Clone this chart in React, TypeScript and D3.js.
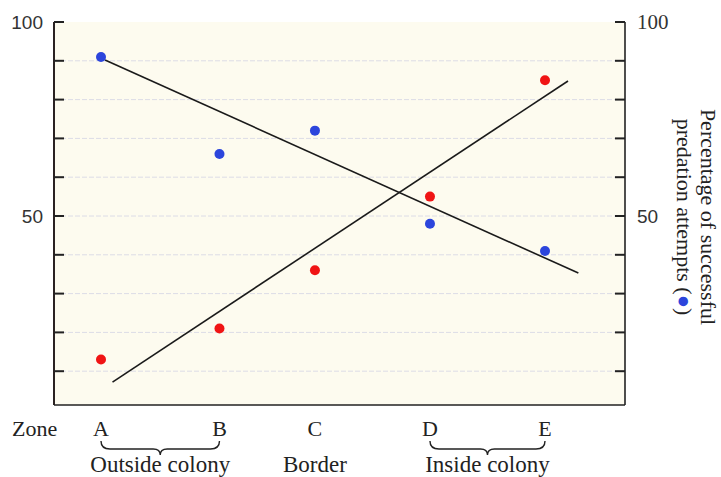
import React from "react";
import * as d3 from "d3";

const zones = ["A", "B", "C", "D", "E"];
const zonePos = [0, 1.03, 1.86, 2.86, 3.86];
const bluePct = [91, 66, 72, 48, 41];
const redPct = [13, 21, 36, 55, 85];
const blueTrend = [
  [0.035, 90.2],
  [4.15, 35.3],
];
const redTrend = [
  [0.1, 7.2],
  [4.06, 84.8],
];
const gridValues = [10, 20, 30, 40, 50, 60, 70, 80, 90];
const tickValues = [10, 20, 30, 40, 50, 60, 70, 80, 90, 100];
const labeledTicks = [50, 100];
const groups = [
  { label: "Outside colony", from: 0, to: 1 },
  { label: "Border", from: 2, to: 2 },
  { label: "Inside colony", from: 3, to: 4 },
];

const W = 721;
const H = 477;
const left = 54;
const right = 625;
const top = 22;
const bottom = 405;

export default function App() {
  const x = d3.scaleLinear().domain([0, 3.86]).range([101, 545]);
  const y = d3.scaleLinear().domain([0, 100]).range([410, 22]);
  const line = d3
    .line<number[]>()
    .x((d) => x(d[0]))
    .y((d) => y(d[1]));
  const serif = "'Liberation Serif', 'Times New Roman', serif";
  const sans = "'Liberation Sans', Arial, sans-serif";

  const brace = (x1: number, x2: number) => {
    const y0 = 441;
    const y1 = 449;
    const mid = (x1 + x2) / 2;
    return `M${x1},${y0} Q${x1},${y1} ${x1 + 9},${y1} L${mid - 7},${y1} Q${mid},${y1} ${mid},${y1 + 6} Q${mid},${y1} ${mid + 7},${y1} L${x2 - 9},${y1} Q${x2},${y1} ${x2},${y0}`;
  };

  return (
    <svg
      width={W}
      height={H}
      style={{ position: "absolute", left: 0, top: 0, background: "#ffffff" }}
    >
      <rect x={left} y={top} width={right - left} height={bottom - top} fill="#fdfbef" />
      {gridValues.map((v) => (
        <line
          key={"g" + v}
          x1={left}
          x2={right}
          y1={y(v)}
          y2={y(v)}
          stroke="#dcdce6"
          strokeWidth={1}
          strokeDasharray="5,2"
        />
      ))}
      {/* axes frame */}
      <line x1={left} x2={left} y1={top} y2={bottom} stroke="#2a2222" strokeWidth={2} />
      <line x1={right} x2={right} y1={top} y2={bottom} stroke="#222" strokeWidth={1.6} />
      <line x1={left} x2={right} y1={bottom} y2={bottom} stroke="#222" strokeWidth={1.6} />
      {tickValues.map((v) => (
        <g key={"t" + v}>
          <line x1={left} x2={left + 10} y1={y(v)} y2={y(v)} stroke="#222" strokeWidth={2} />
          <line x1={right - 10} x2={right} y1={y(v)} y2={y(v)} stroke="#222" strokeWidth={2} />
        </g>
      ))}
      {labeledTicks.map((v) => (
        <g key={"l" + v}>
          <text
            x={43}
            y={y(v) + 7}
            textAnchor="end"
            fontFamily={sans}
            fontSize={19}
            fill="#333"
          >
            {v}
          </text>
          <text
            x={637}
            y={y(v) + 7}
            textAnchor="start"
            fontFamily={v === 100 ? serif : sans}
            fontSize={v === 100 ? 21 : 19}
            fill="#333"
          >
            {v}
          </text>
        </g>
      ))}
      {/* trend lines */}
      <path d={line(blueTrend) || ""} stroke="#1a1a1a" strokeWidth={1.6} fill="none" />
      <path d={line(redTrend) || ""} stroke="#1a1a1a" strokeWidth={1.6} fill="none" />
      {/* points */}
      {zonePos.map((p, i) => (
        <g key={"p" + i}>
          <circle cx={x(p)} cy={y(bluePct[i])} r={5} fill="#2c45dc" />
          <circle cx={x(p)} cy={y(redPct[i])} r={5} fill="#f01414" />
        </g>
      ))}
      {/* zone labels */}
      <text x={12} y={436} fontFamily={serif} fontSize={22} fill="#222">
        Zone
      </text>
      {zones.map((z, i) => (
        <text
          key={z}
          x={x(zonePos[i])}
          y={436}
          textAnchor="middle"
          fontFamily={serif}
          fontSize={22}
          fill="#222"
        >
          {z}
        </text>
      ))}
      {groups.map((g) => {
        const x1 = x(zonePos[g.from]);
        const x2 = x(zonePos[g.to]);
        return (
          <g key={g.label}>
            {g.from !== g.to && (
              <path d={brace(x1, x2)} stroke="#222" strokeWidth={1.4} fill="none" />
            )}
            <text
              x={(x1 + x2) / 2}
              y={472}
              textAnchor="middle"
              fontFamily={serif}
              fontSize={23}
              fill="#222"
            >
              {g.label}
            </text>
          </g>
        );
      })}
      {/* right axis title */}
      <g transform="translate(701,217) rotate(90)">
        <text x={0} y={0} textAnchor="middle" fontFamily={serif} fontSize={22} fill="#222">
          Percentage of successful
        </text>
        <text x={0} y={24} textAnchor="middle" fontFamily={serif} fontSize={22} fill="#222">
          predation attempts (
          <tspan fill="#2c45dc">●</tspan>)
        </text>
      </g>
    </svg>
  );
}
